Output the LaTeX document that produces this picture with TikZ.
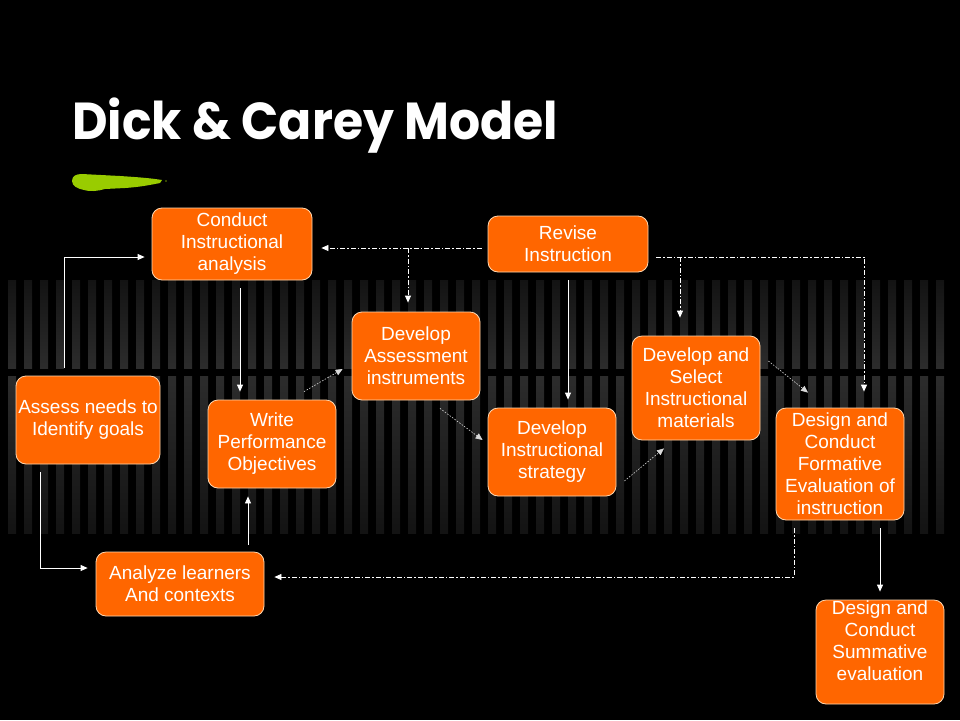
\documentclass[tikz,border=0pt]{standalone}
\usepackage{fontspec}
\setmainfont{Liberation Sans}
\newfontfamily\titlefont{Poppins}
\usetikzlibrary{arrows.meta,calc}
\definecolor{boxorange}{HTML}{FF6600}
\definecolor{boxedge}{HTML}{FFD8B0}
\definecolor{brushgreen}{HTML}{99CC00}
\definecolor{stripedark}{HTML}{131313}
\definecolor{stripelight}{HTML}{2C2C2C}
\tikzset{
  stepbox/.style={fill=boxorange,draw=boxedge,line width=0.8pt,rounded corners=10pt,
    text=white,align=center,inner sep=0pt,font=\fontsize{19}{22}\selectfont},
  boxtext/.style={text=white,align=center,inner sep=0pt,font=\fontsize{19}{22}\selectfont},
  tip/.style={-{Triangle[width=6pt,length=7pt]}},
  solidarr/.style={tip,draw=white,line width=0.8pt},
  dotarr/.style={tip,draw=white!85!black,line width=0.6pt,dash pattern=on 1.5pt off 1.5pt},
  dasharr/.style={tip,draw=white,line width=0.8pt,dash pattern=on 5pt off 2pt on 1.5pt off 2pt},
}
\begin{document}
\begin{tikzpicture}[x=1pt,y=-1pt]
\useasboundingbox (0,0) rectangle (960,720);
\fill[black] (0,0) rectangle (960,720);
% striped background bands
\foreach \i in {0,...,58}{
  \shade[top color=stripedark,bottom color=stripelight] ({8+16*\i},280) rectangle ({16+16*\i},368);
  \shade[top color=stripelight,bottom color=stripedark] ({8+16*\i},376) rectangle ({16+16*\i},533);
}
% title
\node[anchor=base west,text=white,inner sep=0pt,xscale=0.94,font=\titlefont\bfseries\fontsize{52}{60}\selectfont] (title) at (72,139) {Dick \& Carey Model};
% green brush stroke
\fill[brushgreen] (72,181) .. controls (72,176) and (76,174) .. (82,174) -- (120,176)
  .. controls (135,177) and (150,178) .. (162,180) -- (160,183)
  .. controls (150,185) and (140,187) .. (125,188) -- (105,189)
  .. controls (98,191) and (90,192) .. (84,190)
  .. controls (78,189) and (72,186) .. (72,181) -- cycle;
\fill[brushgreen!70!black] (166,181) circle (0.8);
% boxes
\node[stepbox,minimum width=160pt,minimum height=72pt] (n1) at (232,244) {Conduct\\Instructional\\analysis};
\node[stepbox,minimum width=160pt,minimum height=56pt] (n2) at (568,244) {Revise\\Instruction};
\node[stepbox,minimum width=128pt,minimum height=88pt] (n3) at (416,356) {Develop\\Assessment\\instruments};
\node[stepbox,minimum width=144pt,minimum height=88pt] (n4) at (88,420) {Assess needs to\\Identify goals};
\node[stepbox,minimum width=128pt,minimum height=88pt] (n5) at (272,444) {Write\\Performance\\Objectives};
\node[stepbox,minimum width=128pt,minimum height=88pt] (n6) at (552,452) {Develop\\Instructional\\strategy};
\node[stepbox,minimum width=128pt,minimum height=104pt] (n7) at (696,388) {Develop and\\Select\\Instructional\\materials};
\node[stepbox,minimum width=128pt,minimum height=112pt] (n8) at (840,464) {Design and\\Conduct\\Formative\\Evaluation of\\instruction};
\node[stepbox,minimum width=168pt,minimum height=64pt] (n9) at (180,584) {Analyze learners\\And contexts};
\node[stepbox,minimum width=128pt,minimum height=104pt] (n10) at (880,652) {};
\node[boxtext] (n10t) at (880,641) {Design and\\Conduct\\Summative\\evaluation};
% solid connectors
\draw[solidarr] ([xshift=-24pt,yshift=8pt]n4.north) |- ([xshift=-7pt,yshift=-13pt]n1.west);
\draw[solidarr] ([xshift=8pt,yshift=-8pt]n1.south) -- ([xshift=-32pt,yshift=8pt]n5.north);
\draw[solidarr] ([xshift=-48pt,yshift=-8pt]n4.south) |- ([xshift=-8pt,yshift=16pt]n9.west);
\draw[solidarr] ([xshift=68pt,yshift=7pt]n9.north) -- ([xshift=-24pt,yshift=-8pt]n5.south);
\draw[solidarr] ([yshift=-8pt]n2.south) -- ([xshift=16pt,yshift=8pt]n6.north);
\draw[solidarr] ([xshift=40pt,yshift=-8pt]n8.south) -- ([yshift=8pt]n10.north);
% dotted diagonal connectors
\draw[dotarr] ([xshift=32pt,yshift=8pt]n5.north) -- ([xshift=-9pt,yshift=-13pt]n3.west);
\draw[dotarr] ([xshift=24pt,yshift=-8pt]n3.south) -- ([xshift=-5pt,yshift=12pt]n6.west);
\draw[dotarr] ([xshift=8pt,yshift=-29pt]n6.east) -- ([xshift=-32pt,yshift=-8pt]n7.south);
\draw[dotarr] ([xshift=8pt,yshift=27pt]n7.east) -- ([xshift=-32pt,yshift=15pt]n8.north);
% dash-dot revision connectors
\coordinate (s2w) at ([xshift=-6pt,yshift=-4pt]n2.west);
\coordinate (e1) at ([xshift=9pt,yshift=-4pt]n1.east);
\coordinate (t3) at ([xshift=-8pt,yshift=9pt]n3.north);
\draw[dasharr] (s2w) -- (e1);
\draw[dasharr] (t3 |- e1) -- (t3);
\coordinate (s2e) at ([xshift=8pt,yshift=-13pt]n2.east);
\coordinate (t8) at ([xshift=24pt,yshift=16pt]n8.north);
\coordinate (t7) at ([xshift=-16pt,yshift=18pt]n7.north);
\draw[dasharr] (s2e) -| (t8);
\draw[dasharr] (t7 |- s2e) -- (t7);
\draw[dasharr] ([xshift=-46pt,yshift=-8pt]n8.south) |- ([xshift=10pt,yshift=7pt]n9.east);
\end{tikzpicture}
\end{document}
